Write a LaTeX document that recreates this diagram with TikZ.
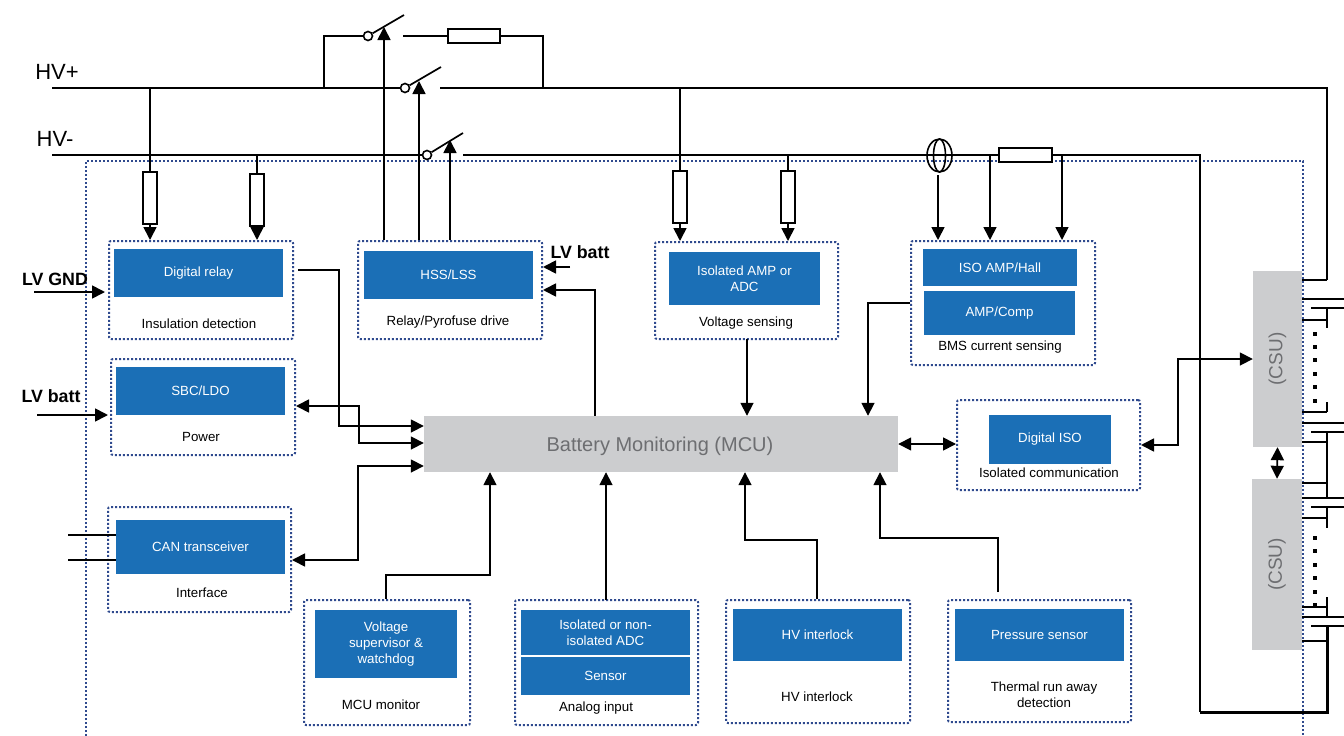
\documentclass[tikz,border=0pt]{standalone}
\usepackage{fontspec}
\setmainfont{Liberation Sans}
\usetikzlibrary{arrows.meta, shapes.geometric}
\definecolor{blockblue}{HTML}{1B6FB6}
\definecolor{blockgray}{HTML}{CCCDCF}
\definecolor{dotblue}{HTML}{2F4A8E}
\definecolor{textgray}{HTML}{6D6E71}
\tikzset{
    wire/.style={line width=1.7pt},
    outerline/.style={draw=dotblue,line width=2pt,dash pattern=on 2pt off 2pt},
    groupbox/.style={outerline,rounded corners=2pt,inner sep=0pt},
    blueblock/.style={fill=blockblue,text=white,inner sep=0pt,align=center,font=\fontsize{13.3}{16}\selectfont},
    grayblock/.style={fill=blockgray,text=textgray,inner sep=0pt},
    boxlabel/.style={inner sep=0pt,align=center,font=\fontsize{13.3}{16}\selectfont},
    boldlabel/.style={inner sep=0pt,font=\fontsize{17.8}{20}\selectfont\bfseries},
    hvlabel/.style={inner sep=0pt,font=\fontsize{22}{24}\selectfont},
    resistor/.style={draw,fill=white,line width=2pt,inner sep=0pt},
    switchpin/.style={circle,draw,fill=white,line width=1.6pt,inner sep=0pt,minimum size=9pt},
    ctring/.style={ellipse,draw,line width=1.6pt,inner sep=0pt}
}
\begin{document}
\begin{tikzpicture}[x=1pt,y=-1pt,>={Stealth[length=13pt,width=13pt,inset=0pt]}]
    \useasboundingbox (0,0) rectangle (1344,736);
    \draw[outerline] (86,736) -- (86,161) -- (1303,161) -- (1303,736);

    \node[groupbox,minimum width=184pt,minimum height=98pt] (insgroup) at (201,290) {};
    \node[blueblock,minimum width=169pt,minimum height=48pt] (relayblk) at (198.5,273) {Digital relay};
    \node[boxlabel] (inslabel) at (199,324) {Insulation detection};
    \node[groupbox,minimum width=184pt,minimum height=98pt] (drvgroup) at (450,290) {};
    \node[blueblock,minimum width=169pt,minimum height=48pt] (hssblk) at (448.5,275) {HSS/LSS};
    \node[boxlabel] (drvlabel) at (448,322) {Relay/Pyrofuse drive};
    \node[groupbox,minimum width=183pt,minimum height=97pt] (vsgroup) at (746.5,290.5) {};
    \node[blueblock,minimum width=151pt,minimum height=53pt] (ampblk) at (744.5,278.5) {Isolated AMP or\\ADC};
    \node[boxlabel] (vslabel) at (746,323) {Voltage sensing};
    \node[groupbox,minimum width=184pt,minimum height=124pt] (bmsgroup) at (1003,303) {};
    \node[blueblock,minimum width=154pt,minimum height=37pt] (hallblk) at (1000,267.5) {ISO AMP/Hall};
    \node[blueblock,minimum width=151pt,minimum height=44pt] (compblk) at (999.5,313) {AMP/Comp};
    \node[boxlabel] (bmslabel) at (1000,347.5) {BMS current sensing};
    \node[groupbox,minimum width=184pt,minimum height=96pt] (pwrgroup) at (203,407) {};
    \node[blueblock,minimum width=169pt,minimum height=48pt] (sbcblk) at (200.5,391) {SBC/LDO};
    \node[boxlabel] (pwrlabel) at (201,436.5) {Power};
    \node[groupbox,minimum width=183pt,minimum height=105pt] (ifgroup) at (199.5,559.5) {};
    \node[blueblock,minimum width=169pt,minimum height=54pt] (canblk) at (200.5,547) {CAN transceiver};
    \node[boxlabel] (iflabel) at (202,592.5) {Interface};
    \node[grayblock,minimum width=474pt,minimum height=56pt] (mcu) at (661,444) {};
    \node[text=textgray,inner sep=0pt,font=\fontsize{20}{22}\selectfont] (mculabel) at (660,446) {Battery Monitoring (MCU)};
    \node[groupbox,minimum width=183pt,minimum height=90pt] (isogroup) at (1048.5,445) {};
    \node[blueblock,minimum width=122pt,minimum height=49pt] (isoblk) at (1050,439.5) {Digital ISO};
    \node[boxlabel] (isolabel) at (1049,472.5) {Isolated communication};
    \node[groupbox,minimum width=166pt,minimum height=125pt] (mongroup) at (387,662.5) {};
    \node[blueblock,minimum width=142pt,minimum height=68pt] (wdgblk) at (386,644) {Voltage\\supervisor \&\\watchdog};
    \node[boxlabel] (monlabel) at (381,704.5) {MCU monitor};
    \node[groupbox,minimum width=183pt,minimum height=125pt] (anagroup) at (606.5,662.5) {};
    \node[blueblock,minimum width=169pt,minimum height=45pt] (adcblk) at (605.5,632.5) {Isolated or non-\\isolated ADC};
    \node[blueblock,minimum width=169pt,minimum height=38pt] (sensblk) at (605.5,676) {Sensor};
    \node[boxlabel] (analabel) at (596,708) {Analog input};
    \node[groupbox,minimum width=184pt,minimum height=123pt] (hvigroup) at (818,661.5) {};
    \node[blueblock,minimum width=169pt,minimum height=52pt] (hviblk) at (817.5,635) {HV interlock};
    \node[boxlabel] (hvilabel) at (817,696.5) {HV interlock};
    \node[groupbox,minimum width=183pt,minimum height=122pt] (thgroup) at (1039.5,661) {};
    \node[blueblock,minimum width=169pt,minimum height=52pt] (presblk) at (1039.5,635) {Pressure sensor};
    \node[boxlabel] (thlabel) at (1044,694.5) {Thermal run away\\detection};
    \node[grayblock,rotate=90,minimum width=176pt,minimum height=49pt,font=\fontsize{19}{22}\selectfont] (csua) at (1277.5,359) {(CSU)};
    \node[grayblock,rotate=90,minimum width=171pt,minimum height=50pt,font=\fontsize{19}{22}\selectfont] (csub) at (1277,564.5) {(CSU)};

    \node[hvlabel] (hvp) at (57,72) {HV+};
    \node[hvlabel] (hvn) at (55,139) {HV-};
    \node[boldlabel] (lvgnd) at (55,279) {LV GND};
    \node[boldlabel] (lvbat) at (51,396) {LV batt};
    \node[boldlabel] (lvdrv) at (580,252) {LV batt};

    \coordinate (hvpL) at (52,88);
    \coordinate (hvpR) at (440,88);
    \coordinate (hvpC) at (1327,88);
    \coordinate (hvpE) at (1327,280);
    \coordinate (hvnL) at (52,155);
    \coordinate (hvnR) at (463,155);
    \coordinate (hvnC) at (1200,155);
    \coordinate (hvnB) at (1200,712);
    \coordinate (hvnE) at (1327,626);

    \node[switchpin] (swp) at (405,88) {};
    \node[switchpin] (swn) at (427,155) {};
    \node[switchpin] (swc) at (368,36) {};
    \coordinate (swpT) at (441,67);
    \coordinate (swnT) at (463,133);
    \coordinate (swcT) at (404,15);
    \coordinate (swpA) at (419,81);
    \coordinate (swnA) at (450,140);
    \coordinate (swcA) at (384,27);
    \draw[wire] (hvpL) -- (swp);
    \draw[wire] (hvpR) -- (hvpC) -- (hvpE);
    \draw[wire] (hvnL) -- (swn);
    \draw[wire] (hvnR) -- (hvnC) -- (hvnB);
    \draw[line width=3pt] (hvnB) -- (hvnB -| hvnE) -- (hvnE);
    \draw[wire] (swp) -- (swpT);
    \draw[wire] (swn) -- (swnT);
    \draw[wire] (swc) -- (swcT);
    \draw[->,wire] (drvgroup.north -| swcA) -- (swcA);
    \draw[->,wire] (drvgroup.north -| swpA) -- (swpA);
    \draw[->,wire] (drvgroup.north -| swnA) -- (swnA);

    \node[resistor,minimum width=52pt,minimum height=14pt] (rpre) at (474,36) {};
    \coordinate (preL) at (324,88);
    \coordinate (preR) at (543,88);
    \coordinate (preG) at (403,36);
    \draw[wire] (preL) |- (swc);
    \draw[wire] (preG) -- (rpre);
    \draw[wire] (rpre) -| (preR);

    \node[resistor,minimum width=14pt,minimum height=52pt] (rinsa) at (150,198) {};
    \node[resistor,minimum width=14pt,minimum height=52pt] (rinsb) at (257,200) {};
    \node[resistor,minimum width=14pt,minimum height=52pt] (rvsa) at (680,196.5) {};
    \node[resistor,minimum width=14pt,minimum height=52pt] (rvsb) at (788,196.5) {};
    \draw[wire] (rinsa) -- (rinsa |- hvpL);
    \draw[wire] (rinsb) -- (rinsb |- hvnL);
    \draw[wire] (rvsa) -- (rvsa |- hvpL);
    \draw[wire] (rvsb) -- (rvsb |- hvnL);
    \draw[->,wire] (rinsa) -- (rinsa |- insgroup.north);
    \draw[->,wire] (rinsb) -- (rinsb |- insgroup.north);
    \draw[->,wire] (rvsa) -- (rvsa |- vsgroup.north);
    \draw[->,wire] (rvsb) -- (rvsb |- vsgroup.north);

    \node[ctring,minimum width=25pt,minimum height=33pt] (ctout) at (939.5,155.5) {};
    \node[ctring,minimum width=12pt,minimum height=33pt] (ctin) at (939.5,155.5) {};
    \node[resistor,minimum width=53pt,minimum height=14pt] (rshunt) at (1025.5,155) {};
    \coordinate (ctA) at (938,175);
    \coordinate (shA) at (990,155);
    \coordinate (shB) at (1062,155);
    \draw[->,wire] (ctA) -- (ctA |- bmsgroup.north);
    \draw[->,wire] (shA) -- (shA |- bmsgroup.north);
    \draw[->,wire] (shB) -- (shB |- bmsgroup.north);

    \coordinate (dra) at (298,270);
    \coordinate (drb) at (339,426);
    \draw[->,wire] (dra) -| (drb) -- (mcu.west |- drb);
    \coordinate (pwa) at (359,406);
    \coordinate (pwb) at (359,443);
    \draw[<->,wire] (pwrgroup.east |- pwa) -- (pwa) -- (pwb) -- (mcu.west |- pwb);
    \coordinate (cna) at (358,560);
    \coordinate (cnb) at (358,466);
    \draw[<->,wire] (ifgroup.east |- cna) -- (cna) -- (cnb) -- (mcu.west |- cnb);
    \coordinate (mna) at (386,575);
    \coordinate (mnb) at (490,575);
    \draw[->,wire] (mna |- mongroup.north) -- (mna) -- (mnb) -- (mnb |- mcu.south);
    \coordinate (ana) at (606,600);
    \draw[->,wire] (ana) -- (ana |- mcu.south);
    \coordinate (hia) at (817,540);
    \coordinate (hib) at (745,540);
    \draw[->,wire] (hia |- hvigroup.north) -- (hia) -- (hib) -- (hib |- mcu.south);
    \coordinate (tha) at (998,538);
    \coordinate (thb) at (880,538);
    \coordinate (thc) at (998,592);
    \draw[->,wire] (thc) -- (tha) -- (thb) -- (thb |- mcu.south);
    \coordinate (dva) at (595,290);
    \draw[->,wire] (dva |- mcu.north) -- (dva) -- (drvgroup.east |- dva);
    \coordinate (dvb) at (570,267);
    \draw[->,wire] (dvb) -- (drvgroup.east |- dvb);
    \coordinate (vsa) at (747,339);
    \draw[->,wire] (vsa) -- (vsa |- mcu.north);
    \coordinate (bsa) at (868,303);
    \draw[->,wire] (bmsgroup.west |- bsa) -- (bsa) -- (bsa |- mcu.north);
    \draw[<->,wire] (mcu.east) -- (isogroup.west |- mcu.east);
    \coordinate (isa) at (1178,445);
    \coordinate (isb) at (1178,359);
    \draw[<->,wire] (isogroup.east |- isa) -- (isa) -- (isb) -- (csua.north);
    \draw[<->,wire] (csua.west) -- (csub.east);

    \coordinate (gnda) at (34,292);
    \coordinate (gndb) at (105,292);
    \draw[->,wire] (gnda) -- (gndb);
    \coordinate (bata) at (37,415);
    \coordinate (batb) at (108,415);
    \draw[->,wire] (bata) -- (batb);
    \coordinate (cana) at (68,535);
    \coordinate (canb) at (68,560);
    \draw[wire] (cana) -- (canblk.west |- cana);
    \draw[wire] (canb) -- (canblk.west |- canb);

    \foreach \ya/\yb/\yc/\yd in {280/299/308/320, 412/423/432/442, 483/498/507/518, 607/617/626/641} {
        \draw[wire] (1302,\ya) -- (1327,\ya);
        \draw[wire] (1302,\yb) -- (1344,\yb);
        \draw[wire] (1311,\yc) -- (1344,\yc);
        \draw[wire] (1302,\yd) -- (1327,\yd);
    }
    \foreach \ya/\yb in {308/328, 402/412, 432/465, 462/498, 507/528, 597/617} {
        \draw[wire] (1327,\ya) -- (1327,\yb);
    }
    \foreach \i in {0,...,5} {
        \fill (1313,331.5+13.4*\i) rectangle +(4,4);
        \fill (1312.5,536+13.4*\i) rectangle +(4,4);
    }
\end{tikzpicture}
\end{document}
